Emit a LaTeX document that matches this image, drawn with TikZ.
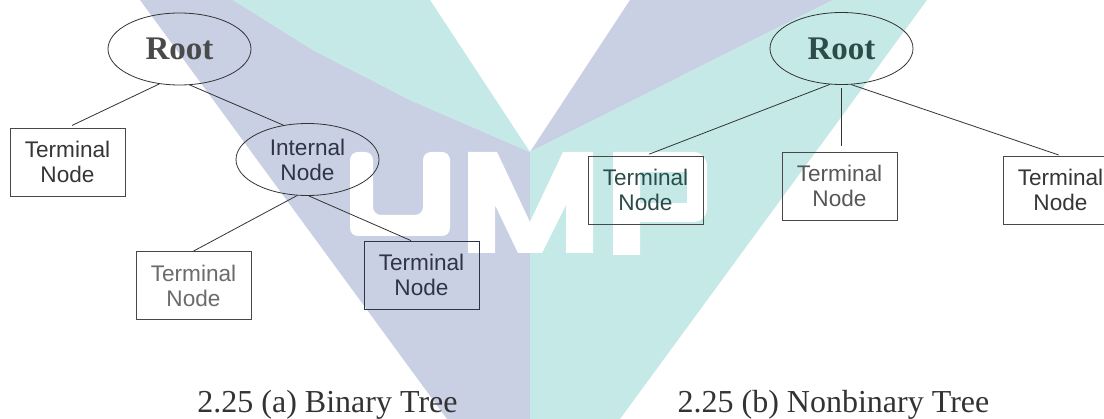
\documentclass[tikz,border=0pt]{standalone}
\usepackage{fontspec}
\setmainfont{Liberation Serif}
\newfontfamily\arialface{Liberation Sans}
\usetikzlibrary{shapes.geometric,calc}

\definecolor{wmlav}{RGB}{201,208,228}
\definecolor{wmteal}{RGB}{196,233,231}
\definecolor{ink}{HTML}{333333}
\definecolor{boxgray}{HTML}{484848}
\definecolor{leafink}{HTML}{363636}
\definecolor{rootink}{HTML}{4A4A4A}
\definecolor{navyink}{HTML}{2F3448}
\definecolor{tealink}{HTML}{2C4C4A}

\tikzset{
  oval/.style={draw=ink, line width=0.8pt, ellipse, minimum width=143pt,
    minimum height=72pt, inner sep=0pt, align=center},
  leaf/.style={draw=boxgray, line width=0.8pt, rectangle, minimum width=115pt,
    minimum height=68pt, inner sep=0pt, align=center},
  nodetext/.style={font=\arialface\fontsize{22.6}{25}\selectfont, text=leafink},
  rootlabel/.style={font=\bfseries\fontsize{33}{33}\selectfont, text=rootink},
  edge/.style={draw=ink, line width=0.8pt},
  caption/.style={font=\fontsize{32}{32}\selectfont, text=ink, anchor=base}
}

\begin{document}
\begin{tikzpicture}[x=1pt, y=-1pt]
  \useasboundingbox (0,0) rectangle (1104,419);
  \clip (0,0) rectangle (1104,419);
  \fill[white] (0,0) rectangle (1104,419);

  % ---- UMP emblem in the background ----
  \fill[wmlav] (140,0) -- (233,0) -- (313,50) -- (410,100) -- (530,152)
    -- (530,419) -- (447,419) -- cycle;
  \fill[wmteal] (233,0) -- (430,0) -- (530,152) -- (410,100) -- (313,50) -- cycle;
  \fill[wmlav] (630,0) -- (833,0) -- (530,152) -- cycle;
  \fill[wmteal] (833,0) -- (927,0) -- (620,419) -- (530,419) -- (530,152) -- cycle;
  % letters U, M, P
  \fill[white, rounded corners=8pt] (350,152) -- (373,152) -- (373,215)
    -- (423,215) -- (423,152) -- (450,152) -- (450,236) -- (350,236) -- cycle;
  \fill[white] (468,253) -- (468,152) -- (497,152) -- (530,222) -- (563,152)
    -- (593,152) -- (593,253) -- (566,253) -- (566,205) -- (542,253)
    -- (518,253) -- (495,205) -- (495,253) -- cycle;
  \fill[white, even odd rule] (613,255) -- (613,152) -- (694,152)
    to[out=0, in=90] (707,166) -- (707,209) to[out=-90, in=0] (694,222)
    -- (640,222) -- (640,255) -- cycle
    (640,172) rectangle (687,203);

  % ---- (a) binary tree ----
  \node[oval, rootlabel] (rootA) at (179.5,49) {Root};
  \node[oval, nodetext, text=navyink] (inner) at (307.5,159.5) {Internal\\Node};
  \node[leaf, nodetext] (a1) at (67.5,162) {Terminal\\Node};
  \node[leaf, nodetext, text=black!58] (a2) at (193.5,285.5) {Terminal\\Node};
  \node[leaf, nodetext, text=navyink, draw=navyink] (a3) at (421.5,275) {Terminal\\Node};

  \draw[edge, shorten >=5pt] (rootA.240) -- (a1.north);
  \draw[edge] (rootA.286) -- (inner.125);
  \draw[edge] (inner.254) -- (a2.north);
  \draw[edge] (inner.272) -- (a3.107);

  % ---- (b) nonbinary tree ----
  \node[oval, rootlabel, text=tealink] (rootB) at (841.5,48.5) {Root};
  \node[leaf, nodetext, text=tealink] (b1) at (645.5,190) {Terminal\\Node};
  \node[leaf, nodetext, text=black!66] (b2) at (839.5,186) {Terminal\\Node};
  \node[leaf, nodetext] (b3) at (1060.5,190) {Terminal\\Node};

  \draw[edge, shorten >=4pt] (rootB.252) -- (b1.north);
  \draw[edge, shorten <=3pt, shorten >=6pt] (rootB.south) -- (rootB.south |- b2.north);
  \draw[edge, shorten >=2pt] (rootB.285) -- (b3.north);

  % ---- captions ----
  \node[caption] (capA) at (327.5,413) {2.25 (a) Binary Tree};
  \node[caption] (capB) at (833.5,413) {2.25 (b) Nonbinary Tree};
\end{tikzpicture}
\end{document}
